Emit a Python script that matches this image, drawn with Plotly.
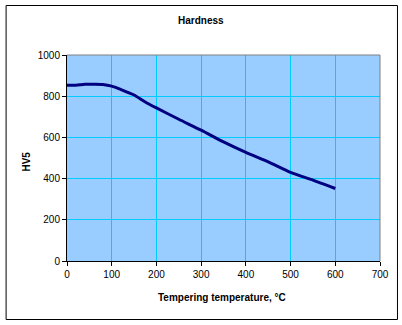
import plotly.graph_objects as go

temperature = [0, 20, 40, 60, 80, 100, 120, 150, 175, 200, 250, 300, 350, 400, 450, 500, 550, 600]
hardness = [853, 853, 858, 858, 857, 849, 833, 806, 772, 743, 688, 635, 578, 527, 481, 430, 393, 352]
x_ticks = [0, 100, 200, 300, 400, 500, 600, 700]
y_ticks = [0, 200, 400, 600, 800, 1000]

W, H = 402, 325
L, R, T, B = 66.5, 22, 55, 64
pw, ph = W - L - R, H - T - B

fig = go.Figure()
fig.add_trace(go.Scatter(x=temperature, y=hardness, mode="lines",
                         line=dict(color="#000080", width=3, shape="spline", smoothing=0.6),
                         showlegend=False, hoverinfo="skip"))

font = dict(family="Arial, Liberation Sans, sans-serif", size=10, color="black")
fig.update_layout(
    width=W, height=H,
    margin=dict(l=L, r=R, t=T, b=B, pad=0),
    paper_bgcolor="white", plot_bgcolor="#99CCFF",
    font=font,
    xaxis=dict(range=[0, 700], tickvals=x_ticks, showgrid=True, gridcolor="#00CCFF", gridwidth=1,
               showline=True, linecolor="black", linewidth=1, ticks="outside", ticklen=4,
               tickcolor="black", zeroline=False, fixedrange=True),
    yaxis=dict(range=[0, 1000], tickvals=y_ticks, showgrid=True, gridcolor="#00CCFF", gridwidth=1,
               showline=True, linecolor="black", linewidth=1, ticks="outside", ticklen=4,
               tickcolor="black", zeroline=False, fixedrange=True),
    shapes=[
        dict(type="line", xref="paper", yref="paper", x0=0, x1=1, y0=1, y1=1,
             line=dict(color="#808080", width=1)),
        dict(type="line", xref="paper", yref="paper", x0=1, x1=1, y0=0, y1=1,
             line=dict(color="#808080", width=1)),
        dict(type="rect", xref="paper", yref="paper",
             x0=(5.5 - L) / pw, x1=(397.5 - L) / pw,
             y0=(H - B - 319.5) / ph, y1=(H - B - 5.5) / ph,
             line=dict(color="black", width=1)),
    ],
    annotations=[
        dict(text="<b>Hardness</b>", xref="paper", yref="paper",
             x=(201 - L) / pw, y=(H - B - 20) / ph, showarrow=False,
             xanchor="center", yanchor="middle", font=dict(size=10)),
        dict(text="<b>Tempering temperature, °C</b>", xref="paper", yref="paper",
             x=(222 - L) / pw, y=(H - B - 297) / ph, showarrow=False,
             xanchor="center", yanchor="middle", font=dict(size=10)),
        dict(text="<b>HV5</b>", xref="paper", yref="paper",
             x=(25 - L) / pw, y=(H - B - 162) / ph, showarrow=False, textangle=-90,
             xanchor="center", yanchor="middle", font=dict(size=10)),
    ],
)

fig.write_html("out.html")
